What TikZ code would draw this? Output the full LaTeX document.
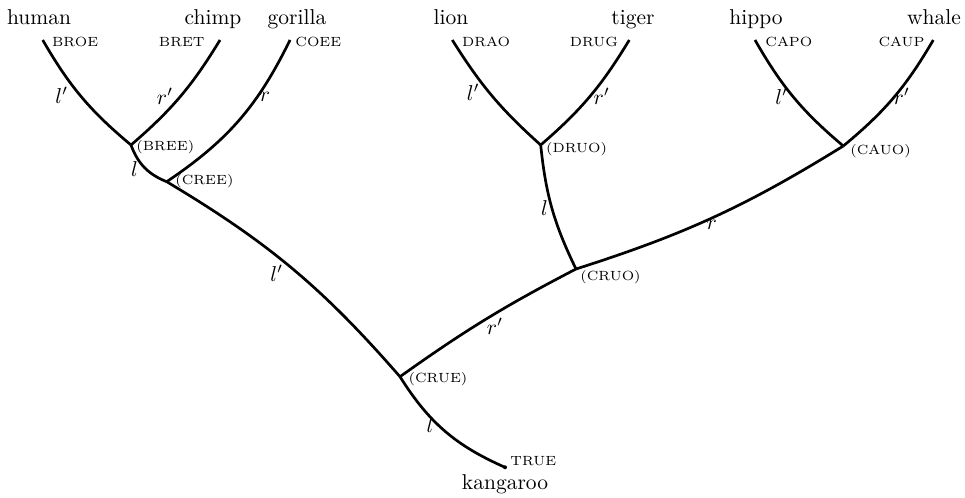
\documentclass[tikz,border=0pt]{standalone}
\begin{document}
\begin{tikzpicture}[x=0.465pt,y=-0.465pt,
  branch/.style={line width=1.25pt},
  leafname/.style={anchor=base, inner sep=0pt, font=\normalsize},
  tag/.style={inner sep=0pt, font=\fontsize{6.2}{7.5}\selectfont},
  inner/.style={anchor=west, inner sep=0pt, font=\fontsize{6.2}{7.5}\selectfont},
  elab/.style={inner sep=0pt}]
\useasboundingbox (0,0) rectangle (965,498);
% tips and junctions
\coordinate (human) at (42.7,40);
\coordinate (chimp) at (220,40);
\coordinate (gorilla) at (290,40);
\coordinate (lion) at (452.3,40);
\coordinate (tiger) at (629.3,40);
\coordinate (hippo) at (755,40);
\coordinate (whale) at (933.3,40);
\coordinate (bree) at (131,145);
\coordinate (cree) at (166.7,181.7);
\coordinate (druo) at (540.7,145);
\coordinate (cauo) at (843.3,146);
\coordinate (cruo) at (576,269);
\coordinate (crue) at (400,376.7);
\coordinate (true) at (505,467.3);
% leaf names
\node[leafname] (nhuman) at (39,25) {human};
\node[leafname] (nchimp) at (213,25) {chimp};
\node[leafname] (ngorilla) at (297,25) {gorilla};
\node[leafname] (nlion) at (451,25) {lion};
\node[leafname] (ntiger) at (633,25) {tiger};
\node[leafname] (nhippo) at (756,25) {hippo};
\node[leafname] (nwhale) at (934,25) {whale};
\node[leafname] (nkangaroo) at (505,490) {kangaroo};
% tags
\node[tag, anchor=base west] (tbroe) at (51.7,46.7) {BROE};
\node[tag, anchor=base east] (tbret) at (205,46.7) {BRET};
\node[tag, anchor=base west] (tcoee) at (295,46.7) {COEE};
\node[tag, anchor=base west] (tdrao) at (461.7,46.7) {DRAO};
\node[tag, anchor=base east] (tdrug) at (618.3,46.7) {DRUG};
\node[tag, anchor=base west] (tcapo) at (765,46.7) {CAPO};
\node[tag, anchor=base east] (tcaup) at (925,46.7) {CAUP};
\node[tag, anchor=base west] (ttrue) at (510,466) {TRUE};
% inner labels
\node[inner] (lbree) at (136,147.2) {(BREE)};
\node[inner] (lcree) at (175,181.3) {(CREE)};
\node[inner] (ldruo) at (545.7,149) {(DRUO)};
\node[inner] (lcauo) at (850,151) {(CAUO)};
\node[inner] (lcruo) at (580,277) {(CRUO)};
\node[inner] (lcrue) at (408.3,378.7) {(CRUE)};
% branches
\draw[branch] (human) to[bend right=10] (bree);
\draw[branch] (bree) to[bend right=9] (chimp);
\draw[branch] (cree) to[bend right=15] (gorilla);
\draw[branch] (bree) to[bend right=24] (cree);
\draw[branch] (cree) to[bend left=9] (crue);
\draw[branch] (crue) to[bend right=17] (true);
\draw[branch] (crue) to[bend left=4] (cruo);
\draw[branch] (cruo) to[bend right=7] (cauo);
\draw[branch] (druo) to[bend right=10] (cruo);
\draw[branch] (lion) to[bend right=8] (druo);
\draw[branch] (druo) to[bend right=9] (tiger);
\draw[branch] (hippo) to[bend right=10] (cauo);
\draw[branch] (cauo) to[bend right=10] (whale);
\fill (true) circle (2);
% edge labels
\node[elab] (e1) at (61.7,95) {$l'$};
\node[elab] (e2) at (165,96.7) {$r'$};
\node[elab] (e3) at (265,96.7) {$r$};
\node[elab] (e4) at (134.5,169) {$l$};
\node[elab] (e5) at (276.7,273.3) {$l'$};
\node[elab] (e6) at (473.3,92) {$l'$};
\node[elab] (e7) at (601.7,96.7) {$r'$};
\node[elab] (e8) at (781.7,96.7) {$l'$};
\node[elab] (e9) at (901.7,96.7) {$r'$};
\node[elab] (e10) at (544.5,208.3) {$l$};
\node[elab] (e11) at (711.7,225) {$r$};
\node[elab] (e12) at (495,326.7) {$r'$};
\node[elab] (e13) at (430,425) {$l$};
\end{tikzpicture}
\end{document}
